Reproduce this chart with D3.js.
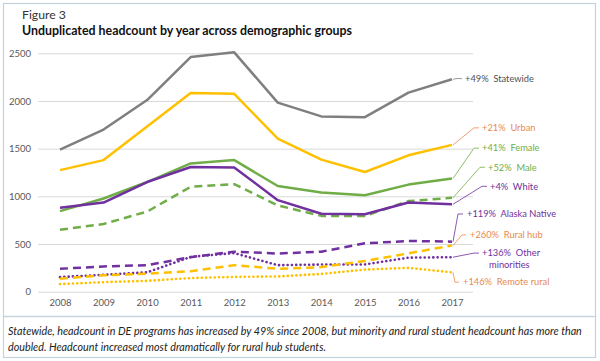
<!DOCTYPE html>
<html>
<head>
<meta charset="utf-8">
<script src="https://cdn.jsdelivr.net/npm/d3@7"></script>
<style>
  html, body { margin: 0; padding: 0; background: #fff; }
  svg { display: block; font-family: Lato, "Open Sans", "DejaVu Sans", sans-serif; }
</style>
</head>
<body>
<svg id="chart" width="600" height="361"></svg>
<script>
// ---------------- DATA ----------------
const years = [2008, 2009, 2010, 2011, 2012, 2013, 2014, 2015, 2016, 2017];
const yTicks = [0, 500, 1000, 1500, 2000, 2500];

const statewide       = [1490, 1700, 2010, 2460, 2510, 1983, 1838, 1830, 2088, 2228];
const urban           = [1275, 1380, 1732, 2083, 2075, 1605, 1385, 1255, 1430, 1540];
const female          = [845,  977, 1150, 1345, 1380, 1108, 1040, 1012, 1123, 1188];
const male            = [650,  710,  840, 1100, 1128,  905,  795,  795,  950,  985];
const white           = [880,  935, 1150, 1308, 1303,  960,  818,  812,  935,  917];
const alaskaNative    = [240,  265,  278,  362,  420,  400,  420,  507,  532,  525];
const ruralHub        = [136,  172,  190,  215,  278,  240,  258,  322,  402,  485];
const otherMinorities = [153,  178,  203,  365,  405,  278,  285,  286,  357,  362];
const remoteRural     = [80,   100,  114,  143,  155,  160,  186,  232,  250,  203];

const seriesNames  = ["Statewide", "Urban", "Female", "Male", "White", "Alaska Native", "Rural hub", "Other minorities", "Remote rural"];
const seriesValues = [statewide, urban, female, male, white, alaskaNative, ruralHub, otherMinorities, remoteRural];
const changeLabels = ["+49%", "+21%", "+41%", "+52%", "+4%", "+119%", "+260%", "+136%", "+146%"];
const titleText   = "Unduplicated headcount by year across demographic groups";
const figureText  = "Figure 3";
const captionLines = [
  "Statewide, headcount in DE programs has increased by 49% since 2008, but minority and rural student headcount has more than",
  "doubled. Headcount increased most dramatically for rural hub students."
];

// ---------------- STYLES / LAYOUT ----------------
const GRAY = "#7f7f7f", YEL = "#ffc000", GRN = "#70ad47", PUR = "#7030a0", ORG = "#e8894f";
const styles = {
  "Statewide":        {color: GRAY, dash: null,  text: "#505050"},
  "Urban":            {color: YEL,  dash: null,  text: ORG},
  "Female":           {color: GRN,  dash: null,  text: GRN},
  "Male":             {color: GRN,  dash: "8,5", text: GRN},
  "White":            {color: PUR,  dash: null,  text: PUR},
  "Alaska Native":    {color: PUR,  dash: "8,5", text: PUR},
  "Rural hub":        {color: YEL,  dash: "8,5", text: ORG},
  "Other minorities": {color: PUR,  dash: "0.1,4.2", text: PUR, cap: "round"},
  "Remote rural":     {color: YEL,  dash: "0.1,4.2", text: ORG, cap: "round"}
};
// label anchor: value-space y and pixel offset from last point; elbow = bracket-style leader
const labelLayout = {
  "Statewide":        {v: 2235, dx: 13},
  "Urban":            {v: 1718, dx: 30},
  "Female":           {v: 1505, dx: 30},
  "Male":             {v: 1305, dx: 36},
  "White":            {v: 1105, dx: 38},
  "Alaska Native":    {v: 815,  dx: 15, elbow: 5},
  "Rural hub":        {v: 595,  dx: 18, elbow: 9},
  "Other minorities": {v: 405,  dx: 30, second: "minorities", dx2: 37},
  "Remote rural":     {v: 100,  dx: 11, elbow: 2}
};

const svg = d3.select("#chart");

// Frames
svg.append("rect").attr("x", 3.5).attr("y", 3.5).attr("width", 592).attr("height", 313)
  .attr("fill", "none").attr("stroke", "#c3d3db").attr("stroke-width", 1.2);
svg.append("rect").attr("x", 3.5).attr("y", 316.5).attr("width", 592).attr("height", 41)
  .attr("fill", "none").attr("stroke", "#c3d3db").attr("stroke-width", 1.2);

function fit(sel, w) {
  const fs = parseFloat(sel.attr("font-size"));
  const cw = sel.node().getComputedTextLength();
  sel.attr("font-size", (fs * w / cw).toFixed(2));
  return fs * w / cw;
}

// Titles
const fig = svg.append("text").attr("x", 22).attr("y", 19).attr("font-size", 11)
  .attr("fill", "#333").text(figureText);
fit(fig, 44);
const title = svg.append("text").attr("x", 22).attr("y", 35).attr("font-size", 14)
  .attr("font-weight", "bold").attr("fill", "#111").text(titleText);
fit(title, 330);

// Scales
const x = d3.scaleLinear().domain([years[0], years[years.length - 1]]).range([60, 452]);
const y = d3.scaleLinear().domain([0, 2500]).range([291.7, 53.3]);

// Y axis with gridlines
const gy = svg.append("g").attr("transform", "translate(38,0)")
  .call(d3.axisLeft(y).tickValues(yTicks).tickSize(-435).tickPadding(7).tickFormat(d3.format("d")));
gy.select(".domain").remove();
gy.selectAll(".tick line").attr("stroke", "#d9d9d9").attr("stroke-width", 1);
gy.selectAll(".tick text").attr("fill", "#595959").attr("font-size", 9.5)
  .attr("font-family", "Lato, 'Open Sans', sans-serif");

// X axis
const gx = svg.append("g").attr("transform", "translate(0,291.7)")
  .call(d3.axisBottom(x).tickValues(years).tickSize(0).tickPadding(8).tickFormat(d3.format("d")));
gx.select(".domain").remove();
gx.selectAll(".tick text").attr("fill", "#595959").attr("font-size", 9.5)
  .attr("font-family", "Lato, 'Open Sans', sans-serif");

// Lines
const line = d3.line().x((d, i) => x(years[i])).y(d => y(d));
const drawOrder = [8, 7, 6, 5, 3, 2, 4, 1, 0];
drawOrder.forEach(i => {
  const name = seriesNames[i], st = styles[name];
  svg.append("path").datum(seriesValues[i])
    .attr("d", line).attr("fill", "none")
    .attr("stroke", st.color).attr("stroke-width", st.cap ? 2.6 : 2.5)
    .attr("stroke-linejoin", "round")
    .attr("stroke-linecap", st.cap || "butt")
    .attr("stroke-dasharray", st.dash);
});

// Labels and leader lines
seriesNames.forEach((name, i) => {
  const st = styles[name], L = labelLayout[name];
  const vals = seriesValues[i];
  const ex = x(years[years.length - 1]), ey = y(vals[vals.length - 1]);
  const lx = ex + L.dx, ly = y(L.v);
  const pts = L.elbow != null
    ? [[ex + 1, ey], [ex + 1 + L.elbow, ly], [lx - 4, ly]]
    : [[ex + 1, ey], [lx - 8, ly], [lx - 3, ly]];
  svg.append("path").attr("d", d3.line()(pts)).attr("fill", "none")
    .attr("stroke", st.color === YEL ? ORG : st.color).attr("stroke-width", 0.8);
  const first = L.second ? changeLabels[i] + "\u00a0\u00a0Other" : changeLabels[i] + "\u00a0\u00a0" + name;
  svg.append("text").attr("x", lx).attr("y", ly).attr("dy", "0.35em")
    .attr("font-size", 9.3).attr("fill", st.text).text(first);
  if (L.second) {
    svg.append("text").attr("x", ex + L.dx2).attr("y", ly + 11.5).attr("dy", "0.35em")
      .attr("font-size", 9.3).attr("fill", st.text).text(L.second);
  }
});

// Caption
const c1 = svg.append("text").attr("x", 8).attr("y", 335).attr("font-size", 11)
  .attr("font-style", "italic").attr("fill", "#222").text(captionLines[0]);
const fs = fit(c1, 574);
svg.append("text").attr("x", 8).attr("y", 351).attr("font-size", fs.toFixed(2))
  .attr("font-style", "italic").attr("fill", "#222").text(captionLines[1]);
</script>
</body>
</html>
